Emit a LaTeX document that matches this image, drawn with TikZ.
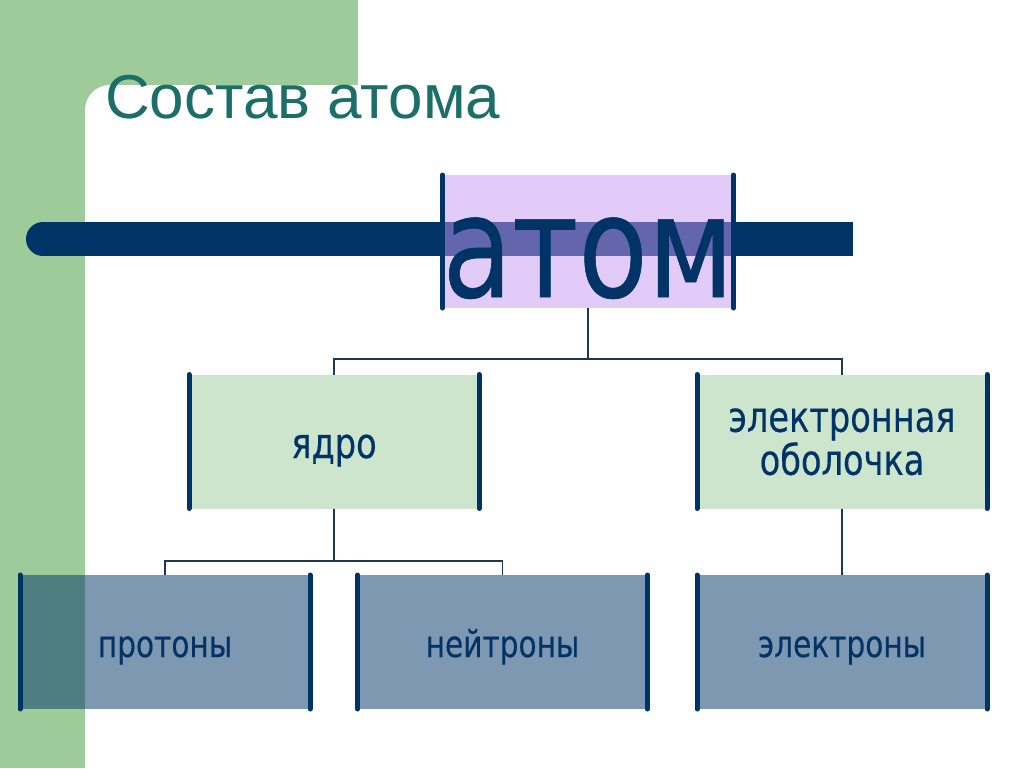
\documentclass[tikz,border=0pt]{standalone}
\usepackage{fontspec}
\setmainfont{Liberation Sans}
\newfontfamily\boxfont[FakeStretch=0.8,FakeBold=0.4]{DejaVu Sans}
\definecolor{bggreen}{RGB}{157,203,154}
\definecolor{navy}{RGB}{0,51,102}
\definecolor{titleteal}{RGB}{28,110,104}
\definecolor{lav}{RGB}{199,153,245}
\definecolor{lightgreen}{RGB}{205,229,204}
\definecolor{connc}{RGB}{30,55,85}
\tikzset{
  box/.style={minimum width=290pt, minimum height=134pt, inner sep=0pt, outer sep=0pt, text=navy},
  topbase/.style={box, fill=lightgreen, font=\boxfont\fontsize{42}{43}\selectfont},
  topbox/.style={topbase, text depth=0pt, text height=33pt},
  botbox/.style={box, fill=navy, fill opacity=0.5, text opacity=1, font=\boxfont\fontsize{37}{40}\selectfont, text depth=0pt, text height=30pt},
  sideline/.style={draw=navy, line width=5pt, line cap=round},
  conn/.style={draw=connc, line width=1.5pt}
}
\begin{document}
\begin{tikzpicture}[x=1pt,y=-1pt]
\useasboundingbox (0,0) rectangle (1024,768);
% background
\fill[bggreen] (0,0) rectangle (1024,768);
\fill[white] (358,0) rectangle (1024,768);
\fill[white] (1024,768) -- (1024,85) [rounded corners=25pt] -- (85,85) -- (85,300) [sharp corners] -- (85,768) -- cycle;
% title
\node[anchor=base west, inner sep=0pt, text=titleteal, font=\fontsize{62}{68}\selectfont] (title) at (105,118) {Состав атома};
% navy bar
\fill[navy] (43,222) rectangle (853,256);
\fill[navy] (43,239) circle[radius=17];
% atom box
\node[box, minimum height=133pt, fill=lav, fill opacity=0.5, text opacity=1, font=\boxfont\fontsize{142}{150}\selectfont, text depth=0pt, text height=111pt] (atom) at (588,241.5) {атом};
\draw[sideline] (atom.north west) -- (atom.south west);
\draw[sideline] (atom.north east) -- (atom.south east);
% level 1
\node[topbox] (yadro) at (334,441.5) {ядро};
\node[topbase, align=center, text depth=0pt] (shell) at (842,441.5) {электронная\\оболочка};
% level 2
\node[botbox] (prot) at (165,642) {протоны};
\node[botbox] (neut) at (502.5,642) {нейтроны};
\node[botbox] (elec) at (842,642) {электроны};
\foreach \b in {yadro,shell,prot,neut,elec}{
  \draw[sideline] (\b.north west) -- (\b.south west);
  \draw[sideline] (\b.north east) -- (\b.south east);
}
% connectors
\coordinate (j1) at (588,359);
\coordinate (j2) at (334,561);
\draw[conn] (atom.south) -- (j1);
\draw[conn] (j1) -| (yadro.north);
\draw[conn] (j1) -| (shell.north);
\draw[conn] (yadro.south) -- (j2);
\draw[conn] (j2) -| (prot.north);
\draw[conn] (j2) -| (neut.north);
\draw[conn] (shell.south) -- (elec.north);
\end{tikzpicture}
\end{document}
